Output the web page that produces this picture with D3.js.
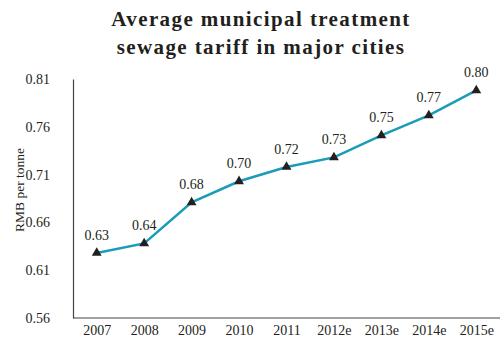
<!DOCTYPE html>
<html><head><meta charset="utf-8">
<script src="https://cdn.jsdelivr.net/npm/d3@7"></script>
<style>body{margin:0;background:#fff}svg{display:block}text{font-family:"Liberation Serif","Times New Roman",serif}</style>
</head><body><svg id="c" width="503" height="340"></svg>
<script>
const categories = ["2007","2008","2009","2010","2011","2012e","2013e","2014e","2015e"];
const values = [0.628,0.638,0.681,0.703,0.718,0.728,0.751,0.772,0.798];
const labels = ["0.63","0.64","0.68","0.70","0.72","0.73","0.75","0.77","0.80"];
const yTicks = [0.56,0.61,0.66,0.71,0.76,0.81];
const titleLines = ["Average municipal treatment","sewage tariff in major cities"];
const yTitle = "RMB per tonne";

(function(){
const svg = d3.select("#c");
const mLeft = 73, mRight = 500, mTop = 79, mBottom = 318;
const x = d3.scalePoint().domain(categories).range([mLeft, mRight]).padding(0.5);
const y = d3.scaleLinear().domain([0.56, 0.81]).range([mBottom, mTop]);

svg.selectAll("text.title").data(titleLines).join("text").attr("class","title")
  .attr("x", 261).attr("y", (d,i)=>26+i*28).attr("text-anchor","middle")
  .attr("font-size", 21).attr("font-weight","bold").attr("letter-spacing","1.4px")
  .attr("fill","#231f20").text(d=>d);

const yAxis = svg.append("g").attr("transform",`translate(${mLeft},0)`)
  .call(d3.axisLeft(y).tickValues(yTicks).tickFormat(d3.format(".2f")).tickSize(0).tickPadding(23));
yAxis.select(".domain").attr("stroke","#444").attr("stroke-width",1.2);
yAxis.selectAll("text").attr("font-size",14).attr("fill","#231f20").attr("font-family","Liberation Serif");

const xAxis = svg.append("g").attr("transform",`translate(0,${mBottom})`)
  .call(d3.axisBottom(x).tickSize(0).tickPadding(7));
xAxis.select(".domain").attr("stroke","#444").attr("stroke-width",1.2).attr("d",`M${mLeft},0H${mRight}`);
xAxis.selectAll("text").attr("font-size",14).attr("fill","#231f20").attr("font-family","Liberation Serif");

svg.append("text").attr("transform",`translate(24,190) rotate(-90)`)
  .attr("text-anchor","middle").attr("font-size",13.5).attr("fill","#231f20").text(yTitle);

const line = d3.line().x((d,i)=>x(categories[i])).y(d=>y(d));
svg.append("path").datum(values).attr("d",line).attr("fill","none")
  .attr("stroke","#1a9bb8").attr("stroke-width",2.5);

svg.selectAll("path.m").data(values).join("path").attr("class","m")
  .attr("d", d3.symbol(d3.symbolTriangle, 42))
  .attr("transform",(d,i)=>`translate(${x(categories[i])},${y(d)})`)
  .attr("fill","#231f20");

svg.selectAll("text.v").data(values).join("text").attr("class","v")
  .attr("x",(d,i)=>x(categories[i])).attr("y",d=>y(d)-13)
  .attr("text-anchor","middle").attr("font-size",14).attr("fill","#231f20")
  .text((d,i)=>labels[i]);
})();
</script></body></html>
